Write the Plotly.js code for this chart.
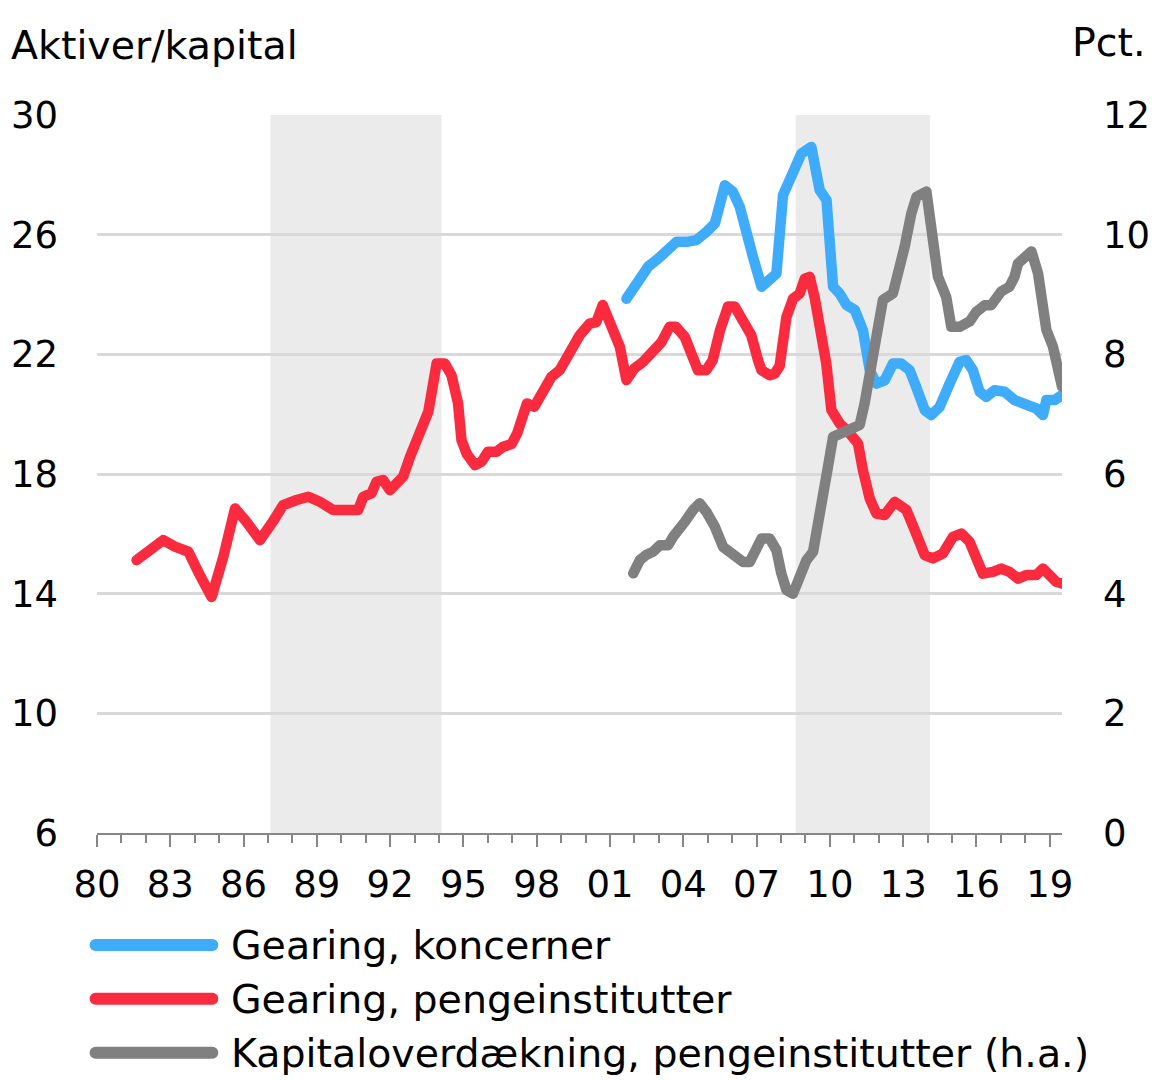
<!DOCTYPE html>
<html>
<head>
<meta charset="utf-8">
<script src="https://cdn.plot.ly/plotly-3.0.1.min.js"></script>
<style>
html,body{margin:0;padding:0;background:#fff;}
#chart{width:1160px;height:1080px;}
.scatterlayer path.js-line{stroke-linejoin:round !important;stroke-linecap:round !important;}
.shapelayer path{stroke-linecap:round !important;}
</style>
</head>
<body>
<div id="chart"></div>
<script>
// ---- Data ----
var seriesNames = ["Gearing, koncerner", "Gearing, pengeinstitutter", "Kapitaloverdækning, pengeinstitutter (h.a.)"];

var redX = [1981.62,1982.17,1982.71,1983.19,1983.74,1984.21,1984.69,1985.17,1985.65,1986.12,1986.67,1987.15,1987.62,1988.17,1988.65,1989.12,1989.67,1990.21,1990.69,1990.9,1991.24,1991.44,1991.71,1991.99,1992.19,1992.53,1992.81,1993.22,1993.56,1993.9,1994.24,1994.51,1994.78,1994.92,1995.13,1995.47,1995.74,1996.0,1996.35,1996.6,1996.97,1997.2,1997.6,1997.9,1998.27,1998.6,1998.94,1999.35,1999.76,2000.17,2000.44,2000.7,2001.05,2001.4,2001.67,2002.0,2002.35,2002.76,2003.1,2003.44,2003.7,2004.06,2004.33,2004.6,2004.94,2005.2,2005.5,2005.83,2006.1,2006.45,2006.78,2007.06,2007.2,2007.54,2007.74,2007.94,2008.1,2008.22,2008.49,2008.76,2008.97,2009.17,2009.37,2009.64,2009.85,2010.06,2010.4,2010.81,2011.15,2011.35,2011.63,2011.9,2012.24,2012.65,2013.13,2013.47,2013.88,2014.22,2014.62,2015.04,2015.38,2015.72,2016.06,2016.26,2016.67,2017.01,2017.35,2017.7,2018.04,2018.45,2018.72,2018.99,2019.26,2019.5];
var redY = [15.12,15.46,15.79,15.57,15.4,14.62,13.89,15.23,16.85,16.4,15.79,16.35,16.96,17.13,17.24,17.07,16.8,16.8,16.8,17.24,17.36,17.74,17.8,17.46,17.63,17.91,18.57,19.36,20.08,21.69,21.69,21.3,20.36,19.13,18.68,18.3,18.41,18.74,18.74,18.9,19.0,19.36,20.36,20.25,20.7,21.25,21.47,22.14,22.64,23.03,23.08,23.65,22.86,22.25,21.14,21.53,21.75,22.08,22.4,22.92,22.92,22.58,22.03,21.47,21.47,21.8,22.8,23.6,23.6,23.03,22.64,21.8,21.47,21.3,21.36,21.6,22.6,23.25,23.86,24.03,24.53,24.59,23.92,22.81,21.7,20.14,19.69,19.36,19.02,18.13,17.18,16.68,16.63,17.07,16.8,16.13,15.29,15.18,15.34,15.9,16.01,15.73,15.01,14.67,14.73,14.84,14.73,14.5,14.62,14.62,14.84,14.62,14.4,14.34];

var blueX = [2001.67,2002.08,2002.56,2002.97,2003.31,2003.72,2004.13,2004.54,2004.95,2005.29,2005.7,2006.03,2006.31,2006.58,2006.85,2007.2,2007.47,2007.81,2008.08,2008.36,2008.63,2008.83,2009.24,2009.58,2009.86,2010.13,2010.4,2010.68,2011.02,2011.35,2011.63,2011.9,2012.24,2012.58,2012.92,2013.26,2013.53,2013.88,2014.15,2014.49,2014.9,2015.31,2015.58,2015.85,2016.13,2016.4,2016.74,2017.15,2017.56,2018.04,2018.45,2018.72,2018.86,2019.2,2019.5];
var blueY = [23.86,24.31,24.93,25.2,25.43,25.76,25.76,25.82,26.1,26.37,27.65,27.43,26.93,25.93,25.26,24.26,24.43,24.7,27.32,27.82,28.16,28.71,28.93,27.49,27.16,24.26,24.03,23.65,23.48,22.81,21.47,21.02,21.13,21.69,21.69,21.47,20.91,20.14,19.97,20.24,21.02,21.75,21.81,21.47,20.75,20.58,20.8,20.75,20.47,20.36,20.19,19.97,20.47,20.47,20.64];

var grayX = [2001.95,2002.22,2002.49,2002.76,2003.04,2003.38,2003.58,2003.79,2004.06,2004.4,2004.67,2004.94,2005.29,2005.63,2006.03,2006.45,2006.72,2006.99,2007.2,2007.54,2007.81,2008.01,2008.22,2008.49,2008.76,2009.04,2009.31,2009.51,2009.71,2009.92,2010.13,2010.4,2010.81,2011.22,2011.42,2011.7,2011.97,2012.17,2012.58,2012.79,2013.06,2013.33,2013.54,2013.95,2014.22,2014.42,2014.76,2014.97,2015.31,2015.72,2015.99,2016.33,2016.6,2016.81,2017.01,2017.35,2017.56,2017.7,2017.97,2018.25,2018.52,2018.86,2019.13,2019.41,2019.5];
var grayY = [4.34,4.56,4.65,4.7,4.81,4.81,4.95,5.09,5.2,5.4,5.51,5.37,5.12,4.78,4.65,4.53,4.53,4.76,4.92,4.92,4.73,4.34,4.06,4.0,4.25,4.56,4.7,5.25,5.67,6.12,6.62,6.68,6.76,6.82,7.18,7.85,8.52,8.91,9.02,9.3,9.8,10.35,10.63,10.72,9.97,9.3,8.96,8.46,8.46,8.55,8.71,8.82,8.82,8.96,9.05,9.13,9.3,9.52,9.63,9.72,9.35,8.41,8.13,7.57,7.46];

var shadeStart = [1987.1, 2008.6];
var shadeEnd = [1994.1, 2014.1];

var xTickVals = [1980,1983,1986,1989,1992,1995,1998,2001,2004,2007,2010,2013,2016,2019];
var xTickText = ["80","83","86","89","92","95","98","01","04","07","10","13","16","19"];
var yLeftTicks = [6,10,14,18,22,26,30];
var yRightTicks = [0,2,4,6,8,10,12];

// ---- Styles ----
var colors = ["#3eabfb", "#fb2b3f", "#808080"];
var FONT = "DejaVu Sans, Verdana, sans-serif";
var FS = 37;
var FS_TXT = 39.5;
var LW = 10.5;

var traces = [
  {x: blueX, y: blueY, name: seriesNames[0], type: "scatter", mode: "lines", yaxis: "y",
   line: {color: colors[0], width: LW}},
  {x: redX, y: redY, name: seriesNames[1], type: "scatter", mode: "lines", yaxis: "y",
   line: {color: colors[1], width: LW}},
  {x: grayX, y: grayY, name: seriesNames[2], type: "scatter", mode: "lines", yaxis: "y2",
   line: {color: colors[2], width: LW}}
];

var shapes = [];
for (var i = 0; i < shadeStart.length; i++) {
  shapes.push({type: "rect", xref: "x", yref: "paper", x0: shadeStart[i], x1: shadeEnd[i], y0: 0, y1: 1,
    fillcolor: "#ebebeb", line: {width: 0}, layer: "below"});
}

// custom legend (long line samples)
var annotations = [];
var legY = [-0.156, -0.231, -0.306];
for (var j = 0; j < seriesNames.length; j++) {
  shapes.push({type: "line", xref: "paper", yref: "paper", x0: -0.0015, x1: 0.1195, y0: legY[j], y1: legY[j],
    line: {color: colors[j], width: 12}});
  annotations.push({xref: "paper", yref: "paper", x: 0.1365, y: legY[j], xanchor: "left", yanchor: "middle",
    text: seriesNames[j], showarrow: false, font: {family: FONT, size: FS_TXT, color: "#000"}});
}
annotations.push({xref: "paper", yref: "paper", x: -0.091, y: 1.098, xanchor: "left", yanchor: "middle",
  text: "Aktiver/kapital", showarrow: false, font: {family: FONT, size: FS_TXT, color: "#000"}});
annotations.push({xref: "paper", yref: "paper", x: 1.089, y: 1.102, xanchor: "right", yanchor: "middle",
  text: "Pct.", showarrow: false, font: {family: FONT, size: FS_TXT, color: "#000"}});

var layout = {
  width: 1160, height: 1080,
  margin: {l: 97, r: 98, t: 115, b: 247, pad: 0},
  paper_bgcolor: "#fff", plot_bgcolor: "rgba(0,0,0,0)",
  showlegend: false,
  font: {family: FONT, size: FS, color: "#000"},
  xaxis: {
    range: [1980, 2019.5], tickmode: "array", tickvals: xTickVals, ticktext: xTickText,
    ticks: "outside", ticklen: 12, tickwidth: 2, tickcolor: "#878787",
    showline: true, linecolor: "#878787", linewidth: 2, showgrid: false, zeroline: false,
    tickfont: {family: FONT, size: FS, color: "#000"}, ticklabelstandoff: 6,
    minor: {tickmode: "linear", tick0: 1980, dtick: 1, ticks: "outside", ticklen: 8, tickwidth: 2, tickcolor: "#878787", showgrid: false}
  },
  yaxis: {
    range: [6, 30], tickmode: "array", tickvals: yLeftTicks, ticks: "", showline: false,
    showgrid: true, gridcolor: "#d9d9d9", gridwidth: 3, zeroline: false,
    tickfont: {family: FONT, size: FS, color: "#000"}, ticklabelstandoff: 38
  },
  yaxis2: {
    range: [0, 12], tickmode: "array", tickvals: yRightTicks, overlaying: "y", side: "right",
    ticks: "", showline: false, showgrid: false, zeroline: false,
    tickfont: {family: FONT, size: FS, color: "#000"}, ticklabelstandoff: 40
  },
  shapes: shapes,
  annotations: annotations
};

Plotly.newPlot("chart", traces, layout, {staticPlot: true, displayModeBar: false});
</script>
</body>
</html>
